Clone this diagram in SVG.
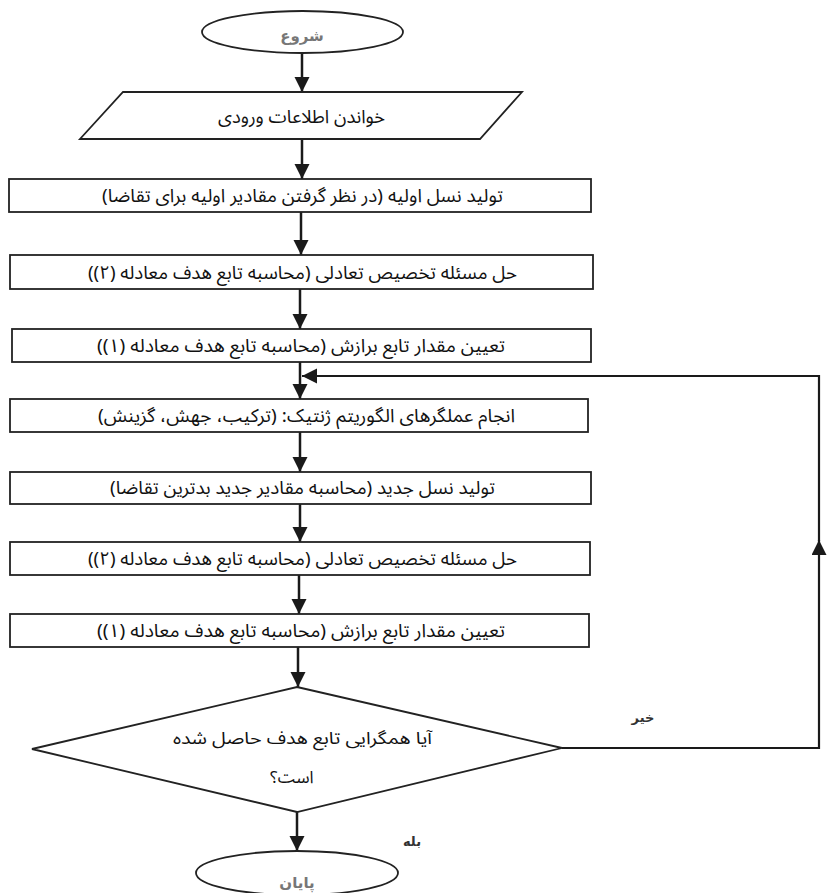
<svg xmlns="http://www.w3.org/2000/svg" width="833" height="893" viewBox="0 0 833 893">
<defs>
<marker id="ah" markerUnits="userSpaceOnUse" markerWidth="16" markerHeight="16" refX="15" refY="7.5" orient="auto">
<path d="M0,0 L15,7.5 L0,15 z" fill="#1a1a1a"/>
</marker>
<style>
.box{fill:#fff;stroke:#222;stroke-width:1.8}
.t{font-family:"Noto Sans Arabic","DejaVu Sans",sans-serif;font-size:18.5px;fill:#111;text-anchor:middle;direction:rtl}
.d{font-size:17px}
.s{font-family:"DejaVu Sans",sans-serif;font-size:15px;font-weight:bold;fill:#777;text-anchor:middle;direction:rtl}
.l{font-family:"DejaVu Sans",sans-serif;font-size:13px;font-weight:bold;fill:#333;text-anchor:middle;direction:rtl}
.c{fill:none;stroke:#1a1a1a;stroke-width:2.5}
.fb{fill:none;stroke:#1a1a1a;stroke-width:2.2}
</style>
</defs>
<rect width="833" height="893" fill="#fff"/>
<g id="connectors">
<path class="c" d="M302,53 V92" marker-end="url(#ah)"/>
<path class="c" d="M302,139 V179" marker-end="url(#ah)"/>
<path class="c" d="M301,212 V255" marker-end="url(#ah)"/>
<path class="c" d="M300,289 V329" marker-end="url(#ah)"/>
<path class="c" d="M300,362 V399" marker-end="url(#ah)"/>
<path class="c" d="M300,432 V472" marker-end="url(#ah)"/>
<path class="c" d="M300,504 V542" marker-end="url(#ah)"/>
<path class="c" d="M299,575 V614" marker-end="url(#ah)"/>
<path class="c" d="M298,647 V687" marker-end="url(#ah)"/>
<path class="c" d="M297,812 V851" marker-end="url(#ah)"/>
<path class="fb" d="M562,748 H819 V540" marker-end="url(#ah)"/>
<path class="fb" d="M819,541 V376 H302" marker-end="url(#ah)"/>
</g>
<g id="start">
<ellipse cx="302.5" cy="32" rx="100.5" ry="21" class="box"/>
<text x="302" y="41" class="s">شروع</text>
</g>
<g id="input">
<polygon points="123,92 522,92 480,139 80,139" class="box"/>
<text x="301.5" y="123" class="t" textLength="167" lengthAdjust="spacingAndGlyphs">خواندن اطلاعات ورودی</text>
</g>
<g id="init">
<rect x="9" y="179" width="582" height="33" class="box"/>
<text x="302.5" y="202" class="t" textLength="401" lengthAdjust="spacingAndGlyphs">تولید نسل اولیه (در نظر گرفتن مقادیر اولیه برای تقاضا)</text>
</g>
<g id="solve1">
<rect x="10" y="255" width="583" height="34" class="box"/>
<text x="302.5" y="279" class="t" textLength="429" lengthAdjust="spacingAndGlyphs">حل مسئله تخصیص تعادلی (محاسبه تابع هدف معادله (۲))</text>
</g>
<g id="fit1">
<rect x="12" y="329" width="579" height="33" class="box"/>
<text x="301" y="352" class="t" textLength="408" lengthAdjust="spacingAndGlyphs">تعیین مقدار تابع برازش  (محاسبه تابع هدف معادله (۱))</text>
</g>
<g id="ga">
<rect x="10" y="399" width="578" height="33" class="box"/>
<text x="306.5" y="422" class="t" textLength="417" lengthAdjust="spacingAndGlyphs">انجام عملگرهای الگوریتم ژنتیک: (ترکیب، جهش، گزینش)</text>
</g>
<g id="newgen">
<rect x="10" y="472" width="581" height="32" class="box"/>
<text x="302.5" y="494" class="t" textLength="385" lengthAdjust="spacingAndGlyphs">تولید نسل جدید (محاسبه مقادیر جدید بدترین تقاضا)</text>
</g>
<g id="solve2">
<rect x="10" y="542" width="580" height="33" class="box"/>
<text x="302.5" y="565" class="t" textLength="429" lengthAdjust="spacingAndGlyphs">حل مسئله تخصیص تعادلی (محاسبه تابع هدف معادله (۲))</text>
</g>
<g id="fit2">
<rect x="10" y="614" width="579" height="33" class="box"/>
<text x="301" y="637" class="t" textLength="408" lengthAdjust="spacingAndGlyphs">تعیین مقدار تابع برازش  (محاسبه تابع هدف معادله (۱))</text>
</g>
<g id="decision">
<polygon points="297,687 562,748 297,812 32,749" class="box"/>
<text x="302.5" y="744" class="t d" textLength="259" lengthAdjust="spacingAndGlyphs">آیا همگرایی تابع هدف حاصل شده</text>
<text x="292" y="783" class="t d">است؟</text>
</g>
<g id="end">
<ellipse cx="297" cy="873" rx="101" ry="22" class="box"/>
<text x="297" y="888" class="s">پایان</text>
</g>
<g id="labels">
<text x="643" y="722" class="l">خیر</text>
<text x="412" y="846" class="l">بله</text>
</g>
</svg>
